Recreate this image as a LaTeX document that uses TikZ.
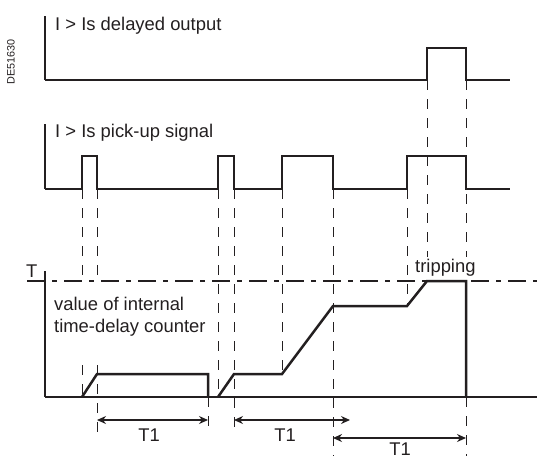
\documentclass[tikz,border=0pt]{standalone}
\usepackage{fontspec}
\setmainfont{Liberation Sans}
\usepackage{tikz}
\usetikzlibrary{arrows.meta}
\definecolor{sigBlack}{HTML}{231F20}
\newcommand{\lblfont}{\fontsize{18.4}{22}\selectfont}
\newcommand{\tagfont}{\fontsize{10.8}{12}\selectfont}

\begin{document}
\begin{tikzpicture}[x=1pt, y=-1pt]
\tikzset{
  sig/.style={draw=sigBlack, line width=2.5pt, line join=miter},
  axis/.style={draw=sigBlack, line width=2.5pt},
  guide/.style={draw=sigBlack, line width=1pt, dash pattern=on 10pt off 9pt},
  tlev/.style={draw=sigBlack, line width=1.1pt, dash pattern=on 18pt off 7pt on 5pt off 7pt},
  dim/.style={{Stealth[length=9pt,width=8pt]}-{Stealth[length=9pt,width=8pt]}, draw=sigBlack, line width=1.2pt},
  lbl/.style={font=\lblfont, text=sigBlack, inner sep=0pt}
}
\useasboundingbox (0,0) rectangle (537,458);

% Reference tag
\node[font=\tagfont, text=sigBlack, rotate=90, inner sep=0pt] (tag) at (11,62) {DE51630};

% Delayed output
\draw[axis] (45,16) -- (45,80);
\draw[sig] (45,80) -- (427,80) -- (427,48) -- (466,48) -- (466,80) -- (510,80);
\node[lbl, anchor=base west] (outlbl) at (55,30) {I > Is delayed output};

% Pick-up signal
\draw[axis] (45,124) -- (45,189);
\draw[sig] (45,189) -- (82,189) -- (82,156) -- (97,156) -- (97,189)
  -- (218,189) -- (218,156) -- (234,156) -- (234,189)
  -- (282,189) -- (282,156) -- (333,156) -- (333,189)
  -- (407,189) -- (407,156) -- (466,156) -- (466,189) -- (510,189);
\node[lbl, anchor=base west] (pulbl) at (55,137) {I > Is pick-up signal};

% Time-delay counter
\draw[tlev] (27,281) -- (537,281);
\node[lbl, anchor=base west] (tlbl) at (26,277) {T};
\draw[axis] (45,271) -- (45,397);
\draw[sig] (45,397) -- (537,397);
\draw[sig] (82,397) -- (97,374) -- (208,374) -- (208,397);
\draw[sig] (218,397) -- (234,374) -- (282,374) -- (333,306) -- (407,306)
  -- (427,281) -- (466,281) -- (466,397);
\node[lbl, anchor=north west, align=left] (cntlbl) at (54,296.5)
  {value of internal\\time-delay counter};
\node[lbl, anchor=base west] (trip) at (415,272) {tripping};

% Guide lines
\draw[guide] (82,189) -- (82,281);
\draw[guide] (82,365) -- (82,397);
\draw[guide] (97,189) -- (97,281);
\draw[guide] (97,365) -- (97,433);
\draw[guide] (218,189) -- (218,397);
\draw[guide] (234,189) -- (234,430);
\draw[guide] (208,397) -- (208,432);
\draw[guide] (282,189) -- (282,374);
\draw[guide] (333,189) -- (333,456);
\draw[guide] (407,189) -- (407,306);
\draw[guide] (427,80) -- (427,257);
\draw[guide] (466,80) -- (466,257);
\draw[guide] (466,397) -- (466,456);

% T1 spans
\coordinate (s1a) at (97,420);
\coordinate (s1b) at (208,420);
\coordinate (s2a) at (234,420);
\coordinate (s2b) at (350,420);
\coordinate (s3a) at (333,438);
\coordinate (s3b) at (466,438);
\draw[dim] (s1a) -- (s1b);
\draw[dim] (s2a) -- (s2b);
\draw[dim] (s3a) -- (s3b);
\node[lbl, anchor=base] (t1a) at (149,441) {T1};
\node[lbl, anchor=base] (t1b) at (285,441) {T1};
\node[lbl, anchor=base] (t1c) at (400,455) {T1};
\end{tikzpicture}
\end{document}
